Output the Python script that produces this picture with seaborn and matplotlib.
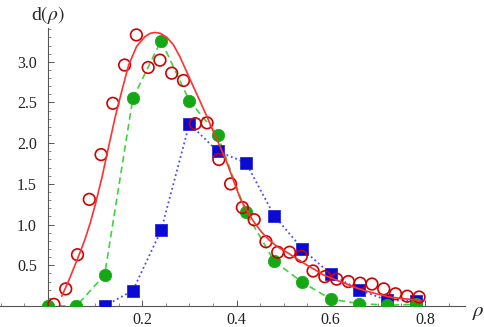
import numpy as np
import pandas as pd
import matplotlib
matplotlib.use("Agg")
import matplotlib.pyplot as plt
import seaborn as sns
from matplotlib.ticker import MultipleLocator, FixedLocator

# ---- data ----
red_x = [0.0125, 0.0375, 0.0625, 0.0875, 0.1125, 0.1375, 0.1625, 0.1875, 0.2125, 0.2375,
         0.2625, 0.2875, 0.3125, 0.3375, 0.3625, 0.3875, 0.4125, 0.4375, 0.4625, 0.4875,
         0.5125, 0.5375, 0.5625, 0.5875, 0.6125, 0.6375, 0.6625, 0.6875, 0.7125, 0.7375,
         0.7625, 0.7875]
red_y = [0.02, 0.21, 0.63, 1.31, 1.86, 2.49, 2.96, 3.33, 2.93, 3.02,
         2.86, 2.77, 2.24, 2.25, 1.80, 1.50, 1.21, 1.06, 0.79, 0.66,
         0.66, 0.61, 0.43, 0.36, 0.33, 0.30, 0.28, 0.27, 0.21, 0.15,
         0.12, 0.11]

fit_x = [0.029, 0.043, 0.057, 0.068, 0.079, 0.090, 0.100, 0.114, 0.128, 0.142,
         0.156, 0.171, 0.188, 0.206, 0.217, 0.227, 0.238, 0.252, 0.266, 0.280,
         0.294, 0.308, 0.323, 0.337, 0.351, 0.365, 0.379, 0.393, 0.408, 0.422,
         0.436, 0.453, 0.471, 0.489, 0.507, 0.528, 0.55, 0.568, 0.585, 0.603,
         0.62, 0.638, 0.655, 0.672, 0.69, 0.708, 0.725, 0.74, 0.755, 0.772, 0.79]
fit_y = [0.12, 0.30, 0.50, 0.66, 0.83, 1.03, 1.24, 1.57, 1.94, 2.31,
         2.63, 2.96, 3.19, 3.31, 3.35, 3.36, 3.35, 3.30, 3.21, 3.06,
         2.88, 2.70, 2.51, 2.33, 2.14, 1.96, 1.77, 1.55, 1.32, 1.17,
         1.04, 0.91, 0.80, 0.72, 0.66, 0.58, 0.50, 0.44, 0.38, 0.34,
         0.30, 0.26, 0.22, 0.19, 0.16, 0.135, 0.11, 0.10, 0.09, 0.08, 0.07]

green_x = [0.0, 0.06, 0.12, 0.18, 0.24, 0.30, 0.36, 0.42, 0.48, 0.54, 0.60, 0.66, 0.72, 0.78]
green_y = [0.0, 0.0, 0.38, 2.55, 3.26, 2.52, 2.10, 1.15, 0.55, 0.29, 0.085, 0.03, 0.01, 0.02]

blue_x = [0.12, 0.18, 0.24, 0.30, 0.36, 0.42, 0.48, 0.54, 0.60, 0.66, 0.72, 0.78]
blue_y = [0.0, 0.19, 0.93, 2.24, 1.90, 1.76, 1.11, 0.70, 0.39, 0.20, 0.07, 0.065]

xticks = [0.2, 0.4, 0.6, 0.8]
yticks = [0.5, 1.0, 1.5, 2.0, 2.5, 3.0]

# ---- style ----
sns.set_style("white")
plt.rcParams['font.family'] = ['Liberation Serif', 'DejaVu Serif']
plt.rcParams['mathtext.fontset'] = 'stix'

fig = plt.figure(figsize=(4.84, 3.27), dpi=100)
ax = fig.add_axes([0, 21 / 327, 465 / 484, 278 / 327])

df_red = pd.DataFrame({"x": red_x, "y": red_y})
df_fit = pd.DataFrame({"x": fit_x, "y": fit_y})
df_g = pd.DataFrame({"x": green_x, "y": green_y})
df_b = pd.DataFrame({"x": blue_x, "y": blue_y})

# blue
sns.lineplot(data=df_b, x="x", y="y", ax=ax, color="#4a4aff", lw=1.3,
             linestyle=(0, (1, 1.6)), sort=False, estimator=None, zorder=2)
sns.scatterplot(data=df_b, x="x", y="y", ax=ax, marker="s", s=75,
                color="#0a0ad0", edgecolor="#2a2ae0", linewidth=0.6, zorder=3)
# green
sns.lineplot(data=df_g, x="x", y="y", ax=ax, color="#3fd43f", lw=1.2,
             linestyle=(0, (4, 2.5)), sort=False, estimator=None, zorder=2)
sns.scatterplot(data=df_g, x="x", y="y", ax=ax, marker="o", s=80,
                color="#14a814", edgecolor="#14a814", linewidth=0.5, zorder=3)
# red
sns.scatterplot(data=df_red, x="x", y="y", ax=ax, marker="o", s=70,
                facecolor="none", edgecolor="#d00000", linewidth=1.2, zorder=4)
sns.lineplot(data=df_fit, x="x", y="y", ax=ax, color="#ff3030", lw=1.2,
             sort=False, estimator=None, zorder=5)

ax.set_xlim(-0.102, 0.885)
ax.set_ylim(0, 3.415)
ax.set_xlabel("")
ax.set_ylabel("")

for s in ["top", "right"]:
    ax.spines[s].set_visible(False)
ax.spines["left"].set_position(("data", 0))
for s in ["left", "bottom"]:
    ax.spines[s].set_color("#555555")
    ax.spines[s].set_linewidth(0.8)

ax.xaxis.set_major_locator(FixedLocator(xticks))
ax.xaxis.set_minor_locator(MultipleLocator(0.05))
ax.yaxis.set_major_locator(FixedLocator(yticks))
ax.yaxis.set_minor_locator(MultipleLocator(0.1))
ax.set_xticklabels([f"{v:.1f}" for v in xticks])
ax.set_yticklabels([f"{v:.1f}" for v in yticks])

ax.tick_params(axis="both", which="both", bottom=True, left=True, top=False, right=False)
ax.tick_params(axis="both", which="major", direction="in", length=4.5, width=0.7,
               color="#555555", labelsize=11.5, labelcolor="#222222")
ax.tick_params(axis="both", which="minor", direction="in", length=2.5, width=0.6,
               color="#777777")
ax.tick_params(axis="x", which="major", pad=4)
ax.tick_params(axis="y", which="major", pad=8)

fig.text(478 / 484, 1 - 312 / 327, r"$\rho$", ha="center", va="center", fontsize=15)
fig.text(48 / 484, 1 - 15 / 327, r"d$(\rho)$", ha="center", va="center", fontsize=14)

fig.savefig("out.png", dpi=100)
